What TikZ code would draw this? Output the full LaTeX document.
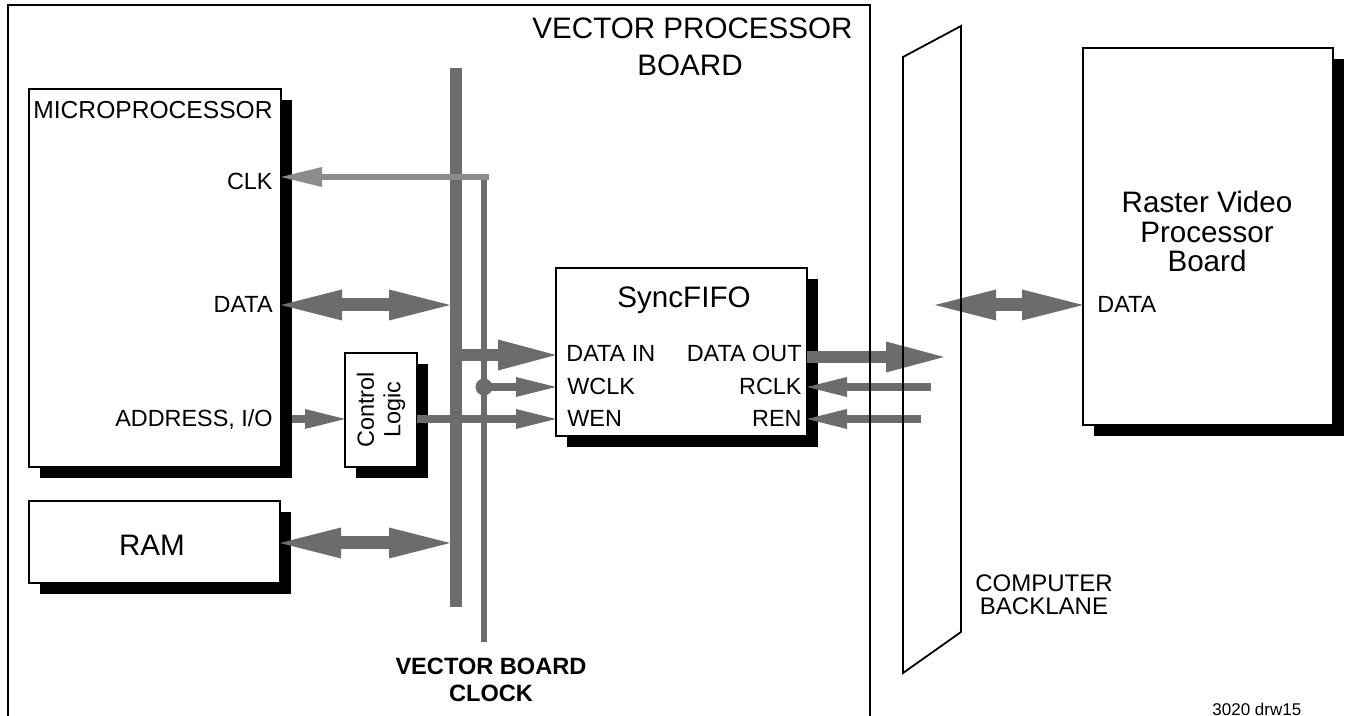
\documentclass[tikz,border=0pt]{standalone}
\usepackage{fontspec}
\setmainfont{Liberation Sans}
\usetikzlibrary{arrows.meta,shadows}
\definecolor{arr}{RGB}{108,108,108}
\definecolor{clkc}{RGB}{140,140,140}
\begin{document}
\begin{tikzpicture}[x=0.5pt,y=-0.5pt,
  box/.style={draw, line width=0.8pt, fill=white, inner sep=0pt, outer sep=0pt, anchor=north west,
    drop shadow={shadow xshift=5.5pt, shadow yshift=-5.5pt, fill=black, opacity=1}},
  lbl/.style={inner sep=0pt, font=\fontsize{11.7}{14}\selectfont},
  big/.style={inner sep=0pt, font=\fontsize{14.8}{18}\selectfont},
  bold/.style={inner sep=0pt, font=\fontsize{11.8}{14}\selectfont\bfseries},
  bigdbl/.style={draw=arr, line width=6.5pt,
    arrows={Triangle[length=30.5pt,width=15.5pt,line width=0pt]-Triangle[length=30.5pt,width=15.5pt,line width=0pt]}},
  bigarr/.style={draw=arr, line width=6pt,
    arrows={-Triangle[length=29pt,width=15.5pt,line width=0pt]}},
  smallarr/.style={draw=arr, line width=4pt,
    arrows={-Triangle[length=20pt,width=10pt,line width=0pt]}},
  clkarr/.style={draw=clkc, line width=3pt,
    arrows={-Triangle[length=20.5pt,width=10pt,line width=0pt]}},
  bus/.style={draw=arr, line width=6.25pt},
  clkline/.style={draw=arr, line width=3pt},
  frame/.style={draw, line width=0.9pt},
]
\useasboundingbox (0,0) rectangle (1345,716);

% boxes
\node[box, minimum width=126pt, minimum height=189pt] (mp) at (29,89) {};
\node[box, minimum width=36pt, minimum height=57pt] (ctl) at (345,353) {};
\node[box, minimum width=125.5pt, minimum height=41pt] (ram) at (29,501) {};
\node[box, minimum width=125.5pt, minimum height=84pt] (fifo) at (556,268) {};
\node[box, minimum width=125pt, minimum height=188.5pt] (rvp) at (1083,48) {};

% texts
\node[inner sep=0pt, font=\fontsize{12.3}{14}\selectfont, anchor=base west] (mpname) at (33,119) {MICROPROCESSOR};
\node[lbl, anchor=base east] (mpclk) at (273,190) {CLK};
\node[lbl, anchor=base east] (mpdata) at (273,313) {DATA};
\node[lbl, anchor=base east] (mpaddr) at (273,427) {ADDRESS, I/O};
\node[inner sep=0pt, rotate=90, align=center, font=\fontsize{11.7}{13.25}\selectfont] (ctltext) at (ctl.center) {Control\\Logic};
\node[big, anchor=base] (ramname) at (152,556) {RAM};
\node[big, anchor=base] (fifoname) at (684,308) {SyncFIFO};
\node[lbl, anchor=base west] (din) at (566,362) {DATA IN};
\node[lbl, anchor=base west] (wclk) at (567,395) {WCLK};
\node[lbl, anchor=base west] (wen) at (567,427) {WEN};
\node[lbl, anchor=base east] (dout) at (802,362) {DATA OUT};
\node[lbl, anchor=base east] (rclk) at (802,395) {RCLK};
\node[lbl, anchor=base east] (ren) at (802,427) {REN};
\node[big, anchor=base] (rv1) at (1207,213) {Raster Video};
\node[big, anchor=base] (rv2) at (1207,243) {Processor};
\node[big, anchor=base] (rv3) at (1207,272) {Board};
\node[lbl, anchor=base west] (rvdata) at (1097,313) {DATA};
\node[big, anchor=base east] (vp1) at (853,39) {VECTOR PROCESSOR};
\node[big, anchor=base] (vp2) at (690,76) {BOARD};
\node[inner sep=0pt, font=\fontsize{12}{14}\selectfont, anchor=base] (cb1) at (1044,592) {COMPUTER};
\node[inner sep=0pt, font=\fontsize{12}{14}\selectfont, anchor=base] (cb2) at (1044,615) {BACKLANE};
\node[bold, anchor=base] (vbc1) at (491,675) {VECTOR BOARD};
\node[bold, anchor=base] (vbc2) at (491,701) {CLOCK};
\node[inner sep=0pt, font=\fontsize{8.5}{10}\selectfont, anchor=base west] (drw) at (1212,715) {3020 drw15};

% coordinates
\coordinate (busL) at (450,0);
\coordinate (busR) at (462,0);
\coordinate (bustop) at (456,68);
\coordinate (busbot) at (456,607);
\coordinate (clkcorner) at (484,177);
\coordinate (clkbot) at (484,642);
\coordinate (clkend) at (489,177);
\coordinate (mpsh) at ([xshift=5.5pt]mp.east);
\coordinate (yclk) at (0,177);
\coordinate (ydata) at (0,305);
\coordinate (yaddr) at (0,419);
\coordinate (yram) at (0,543);
\coordinate (ydin) at (0,355);
\coordinate (ywclk) at (0,387);
\coordinate (ywen) at (0,419);
\coordinate (ydout) at (0,357);
\coordinate (doutend) at (944,357);
\coordinate (rclkend) at (931,387);
\coordinate (renend) at (921,419);
\coordinate (rvdend) at (935,305);

% arrows
\draw[bigdbl] (mp.east |- ydata) -- (busL |- ydata);
\draw[smallarr] (mpsh |- yaddr) -- (ctl.west |- yaddr);
\draw[smallarr] (ctl.east |- ywen) -- (fifo.west |- ywen);
\draw[bigdbl] (ram.east |- yram) -- (busL |- yram);
\draw[bigarr] (busR |- ydin) -- (fifo.west |- ydin);
\draw[smallarr] (clkcorner |- ywclk) -- (fifo.west |- ywclk);
\draw[bigarr] (fifo.east |- ydout) -- (doutend);
\draw[smallarr] (rclkend) -- (fifo.east |- ywclk);
\draw[smallarr] (renend) -- (fifo.east |- ywen);
\draw[bigdbl] (rvdend) -- (rvp.west |- ydata);

% bus and clock
\draw[bus] (bustop) -- (busbot);
\draw[clkline] (clkbot) -- (clkcorner);
\draw[clkarr] (clkend) -- (mp.east |- yclk);
\node[circle, fill=arr, minimum size=8.5pt, inner sep=0pt] (wdot) at (clkcorner |- ywclk) {};

% board frame and backplane
\draw[frame] (8,720) -- (8,5) -- (870,5) -- (870,720);
\draw[frame] (903,57) -- (961,26) -- (961,632) -- (903,673) -- cycle;
\end{tikzpicture}
\end{document}
